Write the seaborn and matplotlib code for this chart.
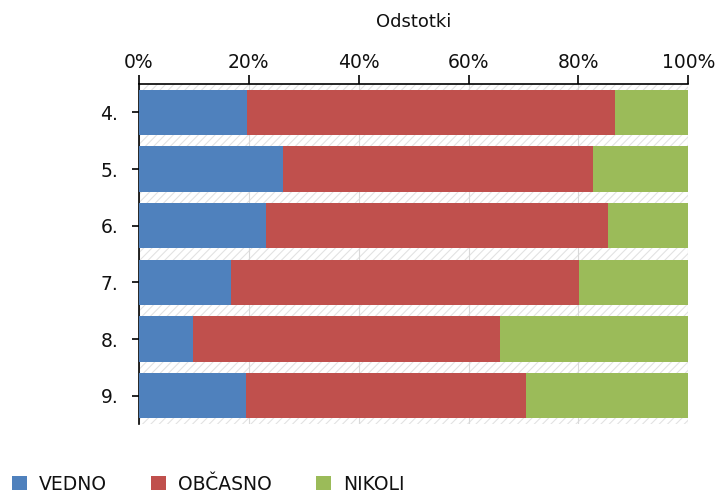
import matplotlib
matplotlib.use("Agg")
import matplotlib.pyplot as plt
from matplotlib.patches import Patch
from matplotlib.ticker import FuncFormatter
import numpy as np
import pandas as pd
import seaborn as sns

# Share of answers per grade (percent)
grades = ["4.", "5.", "6.", "7.", "8.", "9."]
vedno = [19.7, 26.2, 23.1, 16.8, 9.8, 19.5]
obcasno = [67.0, 56.4, 62.3, 63.3, 56.0, 51.0]
nikoli = [13.3, 17.4, 14.6, 19.9, 34.2, 29.5]

series_names = ["VEDNO", "OBČASNO", "NIKOLI"]
series_colors = ["#4F81BD", "#C0504D", "#9BBB59"]

sns.set_theme(style="white")
plt.rcParams["font.family"] = ["DejaVu Sans"]
plt.rcParams["hatch.color"] = "#e2e2e2"
plt.rcParams["hatch.linewidth"] = 0.8

TXT = "#111111"
FS = 13.5

df = pd.DataFrame({"razred": grades, "VEDNO": vedno, "OBČASNO": obcasno, "NIKOLI": nikoli})
# running totals so each segment is drawn over the previous one
df["c1"] = df["VEDNO"]
df["c2"] = df["c1"] + df["OBČASNO"]
df["c3"] = df["c2"] + df["NIKOLI"]

fig = plt.figure(figsize=(7.18, 4.95), dpi=100)
ax = fig.add_axes([0.1936, 0.1434, 0.7651, 0.6869])

# hatched plot background
ax.set_facecolor("white")
ax.patch.set_hatch("////")
ax.patch.set_edgecolor("#e2e2e2")
ax.patch.set_linewidth(0)

for col, color in zip(["c3", "c2", "c1"], series_colors[::-1]):
    sns.barplot(data=df, x=col, y="razred", color=color, orient="h",
                width=0.8, saturation=1, linewidth=0, ax=ax, zorder=3)

ax.set_xlim(0, 100)
ax.set_ylim(5.5, -0.5)
ax.set_xticks(np.arange(0, 101, 20))
ax.xaxis.set_major_formatter(FuncFormatter(lambda v, p: f"{v:.0f}%"))
ax.xaxis.set_ticks_position("top")
ax.xaxis.set_label_position("top")
ax.set_xlabel("Odstotki", fontsize=FS - 0.5, labelpad=19, color=TXT)
ax.set_ylabel("")

ax.grid(axis="x", color="#d9d9d9", linewidth=0.8, zorder=1)
ax.grid(axis="y", visible=False)
ax.set_axisbelow(True)

ax.tick_params(axis="x", which="both", top=True, bottom=False, direction="out",
               length=6.5, width=1.2, color="black", labelsize=FS, pad=2,
               labelcolor=TXT)
ax.tick_params(axis="y", left=True, direction="out", length=5, width=1.2,
               color="black", labelsize=FS, pad=10, labelcolor=TXT)

for side in ["right", "bottom"]:
    ax.spines[side].set_visible(False)
for side in ["top", "left"]:
    ax.spines[side].set_visible(True)
    ax.spines[side].set_color("black")
    ax.spines[side].set_linewidth(1.2)

handles = [Patch(facecolor=c, edgecolor="none", label=n)
           for n, c in zip(series_names, series_colors)]
fig.legend(handles=handles, loc="center left", bbox_to_anchor=(0.0167, 0.022),
           ncol=3, frameon=False, fontsize=FS, handlelength=0.8,
           handleheight=0.8, handletextpad=0.65, columnspacing=2.35,
           borderpad=0, borderaxespad=0, labelcolor=TXT)

fig.savefig("out.png", dpi=100)
